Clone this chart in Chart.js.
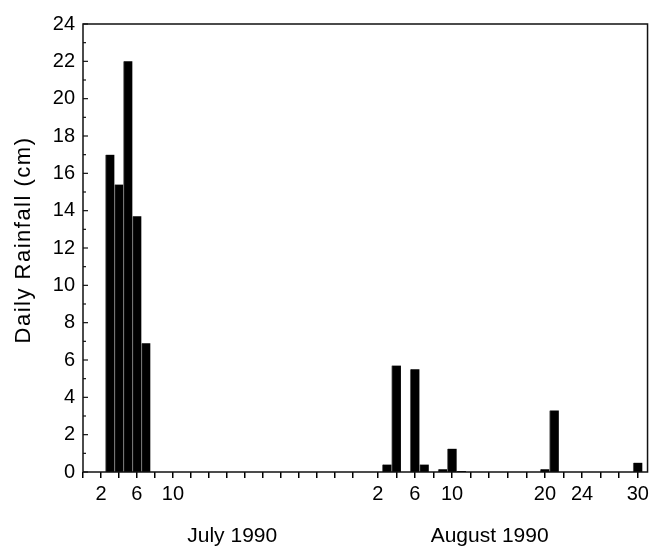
<!DOCTYPE html>
<html><head><meta charset="utf-8">
<script src="https://cdn.jsdelivr.net/npm/chart.js@4/dist/chart.umd.min.js"></script>
<style>html,body{margin:0;padding:0;background:#fff}canvas{display:block}</style>
</head><body>
<canvas id="c" width="653" height="546"></canvas>
<script>
// ---- data ----
const julyDays = [3, 4, 5, 6, 7];
const julyRain = [17.0, 15.4, 22.0, 13.7, 6.9];
const augDays = [3, 4, 6, 7, 9, 10, 11, 20, 21, 30];
const augRain = [0.4, 5.7, 5.5, 0.4, 0.15, 1.25, 0.05, 0.15, 3.3, 0.5];
const julyTickDays = [0, 2, 4, 6, 8, 10, 12, 14, 16, 18, 20, 22, 24, 26, 28, 30];
const julyTickLabels = [2, 6, 10];
const augTickDays = [2, 4, 6, 8, 10, 12, 14, 16, 18, 20, 22, 24, 26, 28, 30];
const augTickLabels = [2, 6, 10, 20, 24, 30];
const yTickValues = [0, 2, 4, 6, 8, 10, 12, 14, 16, 18, 20, 22, 24];
const monthTitles = ['July 1990', 'August 1990'];
const yTitle = 'Daily Rainfall (cm)';

const FONT = "'Liberation Sans', Arial, sans-serif";

const framePlugin = {
  id: 'frame',
  afterDraw(chart) {
    const ctx = chart.ctx;
    const a = chart.chartArea;
    const ys = chart.scales.y;
    ctx.save();
    ctx.strokeStyle = '#111';
    ctx.lineWidth = 1.5;
    ctx.strokeRect(a.left, a.top, a.right - a.left, a.bottom - a.top);
    ctx.lineWidth = 1.2;
    for (let v = ys.min; v <= ys.max; v += 1) {
      const py = ys.getPixelForValue(v);
      const len = (v % 2 === 0) ? 5 : 3;
      ctx.beginPath();
      ctx.moveTo(a.left, py);
      ctx.lineTo(a.left + len, py);
      ctx.stroke();
    }
    ctx.fillStyle = '#000';
    ctx.font = '22px ' + FONT;
    try { ctx.letterSpacing = '1.5px'; } catch (e) {}
    ctx.translate(29.5, 240);
    ctx.rotate(-Math.PI / 2);
    ctx.textAlign = 'center';
    ctx.textBaseline = 'alphabetic';
    ctx.fillText(yTitle, 0, 0);
    ctx.restore();
    ctx.save();
    ctx.fillStyle = '#000';
    ctx.font = '21px ' + FONT;
    ctx.textAlign = 'center';
    ctx.textBaseline = 'alphabetic';
    ctx.fillText(monthTitles[0], chart.scales.xJuly.getPixelForValue(16.6), 542);
    ctx.fillText(monthTitles[1], chart.scales.xAug.getPixelForValue(14.05), 542);
    ctx.restore();
  }
};

const xCommon = {
  type: 'linear',
  offset: false,
  border: { display: false },
  grid: { offset: false, drawOnChartArea: false, drawTicks: true, tickLength: 6, color: '#000', lineWidth: 1.5 },
  ticks: { autoSkip: false, maxRotation: 0, padding: 4, color: '#000', font: { family: FONT, size: 20 } }
};

new Chart(document.getElementById('c'), {
  type: 'bar',
  data: {
    datasets: [
      {
        label: 'July',
        data: julyDays.map((d, i) => ({ x: d, y: julyRain[i] })),
        xAxisID: 'xJuly', yAxisID: 'y',
        backgroundColor: '#000', borderColor: '#666',
        borderWidth: { left: 1, right: 0, top: 0, bottom: 0 },
        barPercentage: 1, categoryPercentage: 1, grouped: false
      },
      {
        label: 'August',
        data: augDays.map((d, i) => ({ x: d, y: augRain[i] })),
        xAxisID: 'xAug', yAxisID: 'y',
        backgroundColor: '#000', borderColor: '#666',
        borderWidth: { left: 1, right: 0, top: 0, bottom: 0 },
        barPercentage: 1, categoryPercentage: 1, grouped: false
      }
    ]
  },
  options: {
    responsive: false,
    animation: false,
    devicePixelRatio: 1,
    layout: { padding: { top: 24, right: 5, left: 0, bottom: 0 } },
    plugins: { legend: { display: false }, tooltip: { enabled: false } },
    scales: {
      xJuly: Object.assign({}, xCommon, {
        position: 'bottom',
        min: 0, max: 62.8,
        afterBuildTicks: (s) => { s.ticks = julyTickDays.map(v => ({ value: v })); },
        afterFit: (s) => { s.height = 74; },
        ticks: Object.assign({}, xCommon.ticks, {
          callback: (v) => julyTickLabels.includes(v) ? String(v) : ''
        })
      }),
      xAug: Object.assign({}, xCommon, {
        position: { y: 0 },
        min: -29.73, max: 31.05,
        afterBuildTicks: (s) => { s.ticks = augTickDays.map(v => ({ value: v })); },
        ticks: Object.assign({}, xCommon.ticks, {
          callback: (v) => augTickLabels.includes(v) ? String(v) : ''
        })
      }),
      y: {
        type: 'linear',
        position: 'left',
        min: 0, max: 24,
        border: { display: false },
        grid: { display: false, drawTicks: false },
        afterBuildTicks: (s) => { s.ticks = yTickValues.map(v => ({ value: v })); },
        afterFit: (s) => { s.width = 83; },
        ticks: { padding: 8, color: '#000', font: { family: FONT, size: 20 } }
      }
    }
  },
  plugins: [framePlugin]
});
</script>
</body></html>
